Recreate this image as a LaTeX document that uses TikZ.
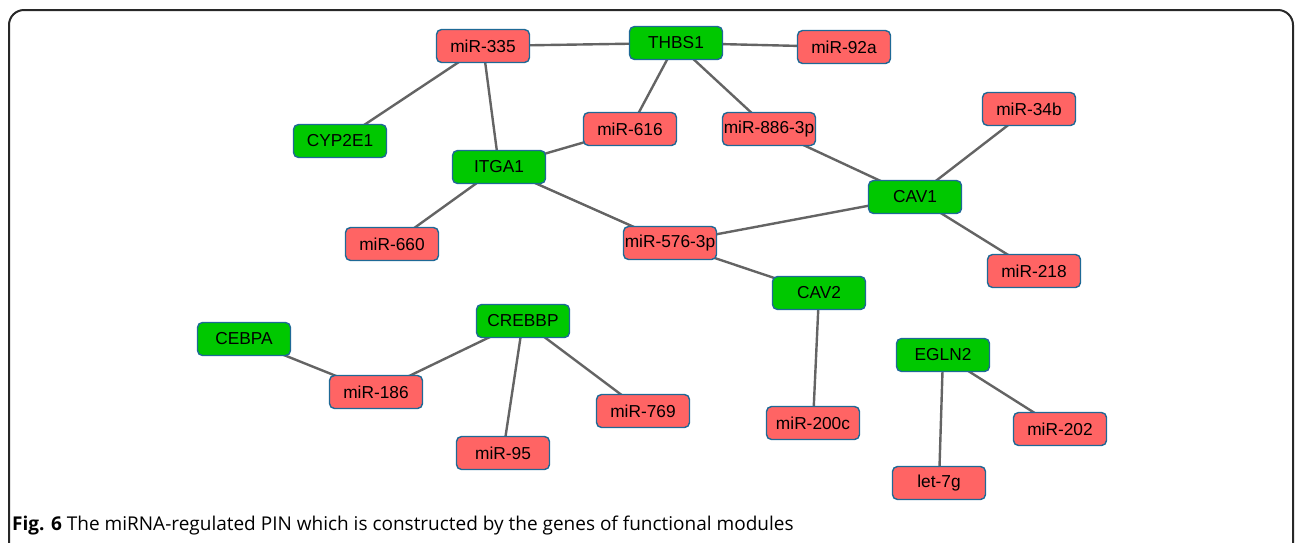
\documentclass[tikz,border=0pt]{standalone}
\usepackage{fontspec}
\setmainfont{Liberation Sans}
\newfontfamily\capfont{Open Sans}
\usetikzlibrary{backgrounds}
\definecolor{mirred}{RGB}{255,100,100}
\definecolor{genegreen}{RGB}{0,200,0}
\definecolor{boxborder}{RGB}{30,105,150}
\definecolor{edgegray}{RGB}{100,100,100}
\definecolor{framegray}{RGB}{40,40,40}
\begin{document}
\begin{tikzpicture}[x=1pt,y=-1pt,
  box/.style={draw=boxborder,line width=1.4pt,rounded corners=5pt,minimum width=93pt,minimum height=33pt,inner sep=0pt,font=\fontsize{17.3}{19}\selectfont},
  mir/.style={box,fill=mirred},
  gene/.style={box,fill=genegreen},
  edge/.style={draw=edgegray,line width=2.4pt}]
\useasboundingbox (0,0) rectangle (1295,542);
\draw[framegray,line width=2pt,rounded corners=15pt] (9,600) -- (9,10) -- (1293,10) -- (1293,600);

\node[mir]  (m335) at (483,46) {miR-335};
\node[gene] (thbs1) at (676,43) {THBS1};
\node[mir]  (m92a) at (844,47) {miR-92a};
\node[gene] (cyp) at (340,141) {CYP2E1};
\node[gene] (itga1) at (499,167) {ITGA1};
\node[mir]  (m616) at (630,129) {miR-616};
\node[mir]  (m886) at (769,129) {miR-886-3p};
\node[mir]  (m34b) at (1029,109) {miR-34b};
\node[gene] (cav1) at (915,197) {CAV1};
\node[mir]  (m660) at (392,244) {miR-660};
\node[mir]  (m576) at (670,243) {miR-576-3p};
\node[mir]  (m218) at (1034,271) {miR-218};
\node[gene] (cav2) at (819,293) {CAV2};
\node[gene] (cebpa) at (244,339) {CEBPA};
\node[gene] (crebbp) at (523,321) {CREBBP};
\node[gene] (egln2) at (943,355) {EGLN2};
\node[mir]  (m186) at (376,392) {miR-186};
\node[mir]  (m769) at (643,411) {miR-769};
\node[mir]  (m200c) at (813,423) {miR-200c};
\node[mir]  (m202) at (1060,429) {miR-202};
\node[mir]  (m95) at (503,453) {miR-95};
\node[mir]  (let7g) at (939,483) {let-7g};

\begin{scope}[on background layer]
\foreach \a/\b in {m335/thbs1,thbs1/m92a,m335/cyp,m335/itga1,thbs1/m616,thbs1/m886,
  m616/itga1,m886/cav1,cav1/m34b,cav1/m218,cav1/m576,itga1/m660,itga1/m576,m576/cav2,
  cav2/m200c,crebbp/m186,cebpa/m186,crebbp/m95,crebbp/m769,egln2/let7g,egln2/m202}
  \draw[edge] (\a.center) -- (\b.center);
\end{scope}

\node[anchor=base west,inner sep=0pt,font=\capfont\fontsize{19}{22}\selectfont] (cap) at (12,530)
  {\textbf{Fig. 6} The miRNA-regulated PIN which is constructed by the genes of functional modules};
\end{tikzpicture}
\end{document}
